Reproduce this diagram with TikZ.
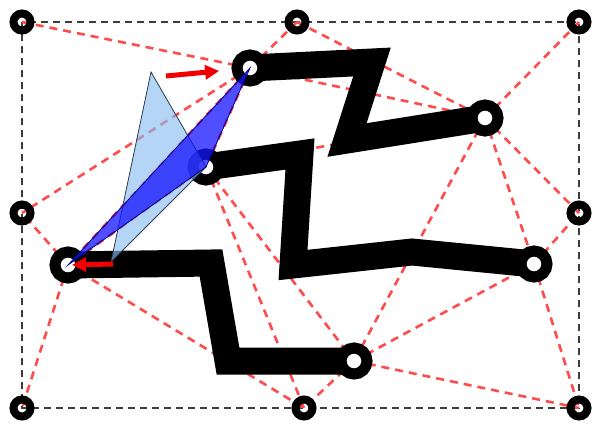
\documentclass[tikz,border=0pt]{standalone}
\usepackage{tikz}
\usetikzlibrary{arrows.meta}
\definecolor{framecolor}{RGB}{60, 60, 60}
\definecolor{meshcolor}{RGB}{255, 75, 75}
\definecolor{trackcolor}{RGB}{0, 0, 0}
\definecolor{oldcolor}{RGB}{140, 190, 240}
\definecolor{oldedge}{RGB}{40, 60, 80}
\definecolor{newcolor}{RGB}{20, 20, 255}
\definecolor{newedge}{RGB}{0, 0, 140}
\definecolor{movecolor}{RGB}{240, 0, 0}
\tikzset{
framedash/.style={
  draw=framecolor,
  line width=1mm,
  dash pattern=on 3.5mm off 2.5mm
},
meshedge/.style={
  draw=meshcolor,
  line width=1.3mm,
  dash pattern=on 4mm off 3mm
},
track/.style={
  draw=trackcolor,
  line width=13.5mm,
  miter limit=4
},
bigring/.style={
  circle,
  draw=black,
  fill=white,
  line width=5.5mm,
  minimum size=13mm,
  inner sep=0pt
},
smallring/.style={
  circle,
  draw=black,
  line width=4mm,
  minimum size=8.5mm,
  inner sep=0pt
}
}

\begin{document}
\begin{tikzpicture}[
    x=0.5mm, y=-0.5mm,
    % Estilos
    oldtri/.style={
        fill=oldcolor,
        fill opacity=0.65,
        draw=oldedge,
        line width=0.4mm,
    },
    newtri/.style={
        fill=newcolor,
        fill opacity=0.75,
        draw=newedge,
        line width=0.4mm,
    },
    movearrow/.style={
        -{Triangle[length=7mm, width=7mm]},
        line width=2.5mm,
        movecolor,
    },
]
\useasboundingbox (0, 0) rectangle (594, 429);

% ============================================================================
% PONTOS
% ============================================================================
\coordinate (tl) at (22, 22);
\coordinate (tm) at (297, 22);
\coordinate (tr) at (579, 22);
\coordinate (ml) at (22, 213);
\coordinate (mr) at (579, 213);
\coordinate (bl) at (22, 408);
\coordinate (bm) at (304, 408);
\coordinate (br) at (579, 408);

\coordinate (pa) at (250, 68);
\coordinate (pb) at (485, 118);
\coordinate (pc) at (206, 167);
\coordinate (pd) at (534, 264);
\coordinate (pe) at (68, 265);
\coordinate (pf) at (354, 361);

% dobras dos caminhos
\coordinate (ka1) at (372, 62);
\coordinate (ka2) at (347, 140);
\coordinate (kc1) at (300, 154);
\coordinate (kc2) at (293, 265);
\coordinate (kc3) at (412, 252);
\coordinate (ke1) at (211, 263);
\coordinate (ke2) at (228, 361);

% posicoes antigas
\coordinate (olda) at (151, 72);
\coordinate (olde) at (111, 262);
\coordinate (mva) at (166, 76);
\coordinate (mve) at (113, 264);

% ============================================================================
% MOLDURA
% ============================================================================
\draw[framedash] (tl) rectangle (br);

% ============================================================================
% TRIANGULACAO
% ============================================================================
\draw[meshedge] (tl) -- (pa);
\draw[meshedge] (tm) -- (pa);
\draw[meshedge] (tm) -- (pb);
\draw[meshedge] (tr) -- (pb);
\draw[meshedge] (pb) -- (mr);
\draw[meshedge] (pb) -- (pd);
\draw[meshedge] (pb) -- (pf);
\draw[meshedge] (pa) -- (pb);
\draw[meshedge] (pc) -- (pb);
\draw[meshedge] (pa) -- (pc);
\draw[meshedge] (pa) -- (ml);
\draw[meshedge] (pa) -- (pe);
\draw[meshedge] (pc) -- (pe);
\draw[meshedge] (pc) -- (pf);
\draw[meshedge] (pc) -- (bm);
\draw[meshedge] (pe) -- (ml);
\draw[meshedge] (pe) -- (bl);
\draw[meshedge] (pe) -- (bm);
\draw[meshedge] (pf) -- (bm);
\draw[meshedge] (pf) -- (br);
\draw[meshedge] (pf) -- (pd);
\draw[meshedge] (pd) -- (br);
\draw[meshedge] (pd) -- (mr);

% ============================================================================
% CAMINHOS
% ============================================================================
\draw[track] (pa) -- (ka1) -- (ka2) -- (pb);
\draw[track] (pc) -- (kc1) -- (kc2) -- (kc3) -- (pd);
\draw[track] (pe) -- (ke1) -- (ke2) -- (pf);

% terminais
\node[bigring] (ringa) at (pa) {};
\node[bigring] (ringb) at (pb) {};
\node[bigring] (ringc) at (pc) {};
\node[bigring] (ringd) at (pd) {};
\node[bigring] (ringe) at (pe) {};
\node[bigring] (ringf) at (pf) {};

% cantos
\node[smallring] (ringtl) at (tl) {};
\node[smallring] (ringtm) at (tm) {};
\node[smallring] (ringtr) at (tr) {};
\node[smallring] (ringml) at (ml) {};
\node[smallring] (ringmr) at (mr) {};
\node[smallring] (ringbl) at (bl) {};
\node[smallring] (ringbm) at (bm) {};
\node[smallring] (ringbr) at (br) {};

% ============================================================================
% TRIANGULOS E MOVIMENTO
% ============================================================================
\draw[oldtri] (olda) -- (pc) -- (olde) -- cycle;
\draw[newtri] (pa) -- (pc) -- (pe) -- cycle;

\draw[movearrow, shorten >=15.5mm] (mva) -- (pa);
\draw[movearrow, shorten >=2mm] (mve) -- (pe);

\end{tikzpicture}
\end{document}
